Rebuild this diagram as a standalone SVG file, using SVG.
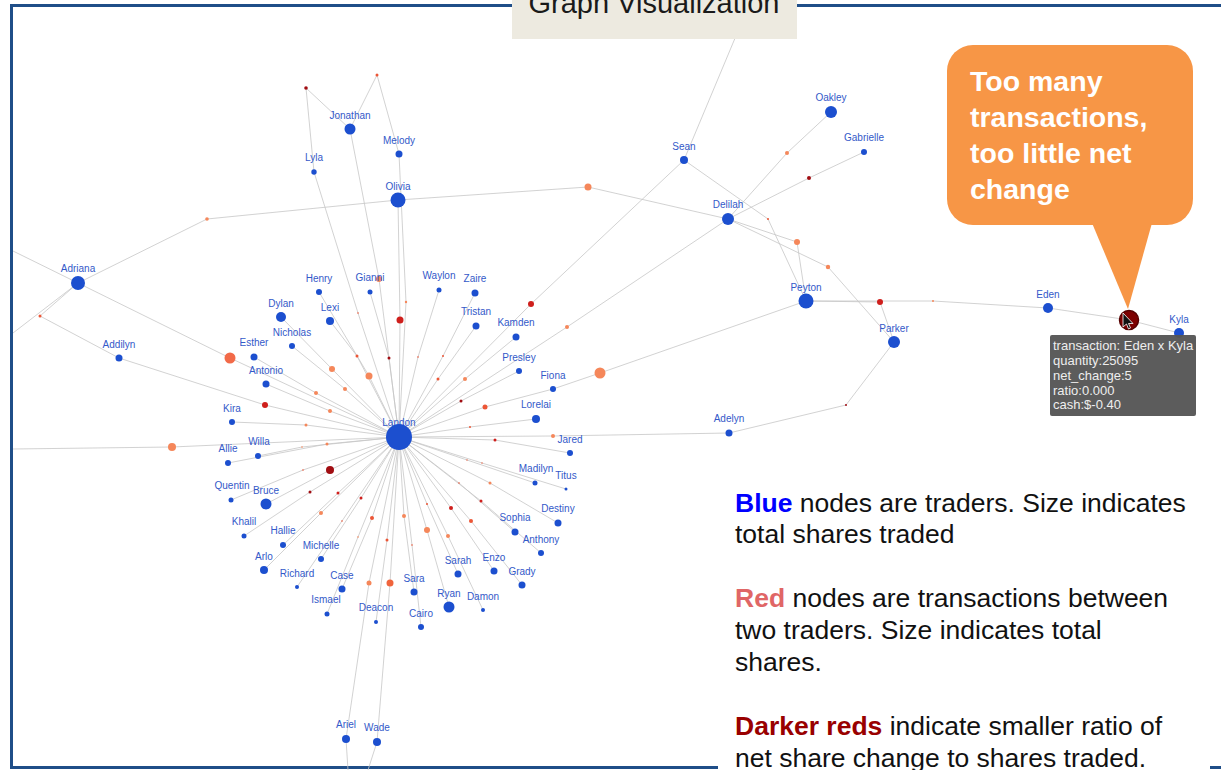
<svg xmlns="http://www.w3.org/2000/svg" width="1221" height="770" viewBox="0 0 1221 770">
<style>
.e{fill:none;stroke:#c6c6c6;stroke-width:0.8}
.tr circle{fill:#1c4fcf}
.tr text{font-family:"Liberation Sans",Arial,sans-serif;font-size:10px;fill:#3359c9;text-anchor:middle}
.t1{fill:#f5875a}
.t2{fill:#ec5636}
.t3{fill:#cf1f1c}
.t4{fill:#a10d12}
.lg{font-family:"Liberation Sans",Arial,sans-serif;font-size:26.5px;fill:#111}
.tip{font-family:"Liberation Sans",Arial,sans-serif;font-size:13px;fill:#eeeeee}
.co{font-family:"Liberation Sans",Arial,sans-serif;font-size:28.5px;font-weight:bold;fill:#ffffff}
</style>
<rect x="0" y="0" width="1221" height="770" fill="#ffffff"/>
<rect id="frame" x="11.5" y="5.5" width="1230" height="762" fill="none" stroke="#1f4e88" stroke-width="3"/>

<g id="connectors">
<path class="e" d="M350 129 L306 88 L314 172"/>
<path class="e" d="M350 129 L377 75 L399 154"/>
<path class="e" d="M399 154 L406 302 L399 437"/>
<path class="e" d="M398 200 L400 320 L399 437"/>
<path class="e" d="M398 200 L207 219 L78 283"/>
<path class="e" d="M398 200 L588 187 L728 219"/>
<path class="e" d="M684 160 L751 0"/>
<path class="e" d="M684 160 L768 219 L806 301"/>
<path class="e" d="M684 160 L531 304 L399 437"/>
<path class="e" d="M831 112 L787 153 L728 219"/>
<path class="e" d="M864 152 L809 178 L728 219"/>
<path class="e" d="M728 219 L797 242 L806 301"/>
<path class="e" d="M728 219 L828 267 L894 342"/>
<path class="e" d="M728 219 L567 327 L399 437"/>
<path class="e" d="M806 301 L880 302 L894 342"/>
<path class="e" d="M806 301 L933 301 L1048 308"/>
<path class="e" d="M1048 308 L1129 320 L1179 333"/>
<path class="e" d="M894 342 L846 405 L729 433"/>
<path class="e" d="M729 433 L553 436 L399 437"/>
<path class="e" d="M806 301 L600 373 L553 389"/>
<path class="e" d="M553 389 L485 407 L399 437"/>
<path class="e" d="M78 283 L13 251"/>
<path class="e" d="M78 283 L13 333"/>
<path class="e" d="M78 283 L40 316 L119 358"/>
<path class="e" d="M78 283 L230 358 L399 437"/>
<path class="e" d="M119 358 L265 405 L399 437"/>
<path class="e" d="M13 449 L172 447 L399 437"/>
<path class="e" d="M346 739 L348 770"/>
<path class="e" d="M377 742 L368 770"/>
<path class="e" d="M350 129 L379 279 L399 437"/>
<path class="e" d="M314 172 L358 313 L399 437"/>
<path class="e" d="M319 292 L369 376 L399 437"/>
<path class="e" d="M370 292 L389 358 L399 437"/>
<path class="e" d="M330 321 L357 356 L399 437"/>
<path class="e" d="M281 317 L332 369 L399 437"/>
<path class="e" d="M292 346 L345 389 L399 437"/>
<path class="e" d="M254 357 L316 393 L399 437"/>
<path class="e" d="M266 384 L330 411 L399 437"/>
<path class="e" d="M232 422 L306 425 L399 437"/>
<path class="e" d="M439 290 L418 357 L399 437"/>
<path class="e" d="M475 293 L443 356 L399 437"/>
<path class="e" d="M476 326 L438 379 L399 437"/>
<path class="e" d="M516 337 L465 379 L399 437"/>
<path class="e" d="M519 371 L461 401 L399 437"/>
<path class="e" d="M536 419 L470 427 L399 437"/>
<path class="e" d="M570 453 L495 440 L399 437"/>
<path class="e" d="M535 483 L467 460 L399 437"/>
<path class="e" d="M566 489 L482 463 L399 437"/>
<path class="e" d="M558 523 L490 483 L399 437"/>
<path class="e" d="M515 532 L459 483 L399 437"/>
<path class="e" d="M541 553 L481 501 L399 437"/>
<path class="e" d="M522 585 L471 521 L399 437"/>
<path class="e" d="M494 571 L451 508 L399 437"/>
<path class="e" d="M458 574 L427 504 L399 437"/>
<path class="e" d="M483 610 L448 536 L399 437"/>
<path class="e" d="M449 607 L427 530 L399 437"/>
<path class="e" d="M421 627 L412 545 L399 437"/>
<path class="e" d="M414 592 L404 516 L399 437"/>
<path class="e" d="M377 742 L390 583 L399 437"/>
<path class="e" d="M346 739 L369 583 L399 437"/>
<path class="e" d="M376 622 L387 540 L399 437"/>
<path class="e" d="M327 614 L358 537 L399 437"/>
<path class="e" d="M342 589 L372 518 L399 437"/>
<path class="e" d="M297 587 L342 521 L399 437"/>
<path class="e" d="M321 559 L361 498 L399 437"/>
<path class="e" d="M264 570 L321 513 L399 437"/>
<path class="e" d="M283 545 L338 493 L399 437"/>
<path class="e" d="M244 536 L310 492 L399 437"/>
<path class="e" d="M266 504 L330 470 L399 437"/>
<path class="e" d="M231 500 L303 470 L399 437"/>
<path class="e" d="M228 463 L327 444 L399 437"/>
<path class="e" d="M258 456 L302 447 L399 437"/>
</g>

<g id="transactions">
<g id="tx-01"><circle class="t4" cx="306" cy="88" r="1.8"/></g>
<g id="tx-02"><circle class="t2" cx="377" cy="75" r="1.5"/></g>
<g id="tx-03"><circle class="t1" cx="207" cy="219" r="1.8"/></g>
<g id="tx-04"><circle class="t1" cx="588" cy="187" r="3.5"/></g>
<g id="tx-05"><circle class="t1" cx="787" cy="153" r="2"/></g>
<g id="tx-06"><circle class="t4" cx="809" cy="178" r="2"/></g>
<g id="tx-07"><circle class="t2" cx="768" cy="219" r="1"/></g>
<g id="tx-08"><circle class="t1" cx="797" cy="242" r="3"/></g>
<g id="tx-09"><circle class="t1" cx="828" cy="267" r="2.2"/></g>
<g id="tx-10"><circle class="t3" cx="880" cy="302" r="3"/></g>
<g id="tx-11"><circle class="t1" cx="933" cy="301" r="1"/></g>
<g id="tx-12"><circle class="t4" cx="846" cy="405" r="1"/></g>
<g id="tx-13"><circle class="t3" cx="531" cy="304" r="3"/></g>
<g id="tx-14"><circle class="t1" cx="567" cy="327" r="2"/></g>
<g id="tx-15"><circle class="t1" cx="600" cy="373" r="5.5"/></g>
<g id="tx-16"><circle class="t1" cx="553" cy="436" r="2"/></g>
<g id="tx-17"><circle class="t2" cx="40" cy="316" r="1.5"/></g>
<g id="tx-18"><circle fill="#f26a48" cx="230" cy="358" r="5.5"/></g>
<g id="tx-19"><circle class="t3" cx="265" cy="405" r="3"/></g>
<g id="tx-20"><circle class="t1" cx="172" cy="447" r="4"/></g>
<g id="tx-21"><circle class="t1" cx="379" cy="279" r="3"/></g>
<g id="tx-22"><circle class="t2" cx="358" cy="313" r="0.8"/></g>
<g id="tx-23"><circle class="t3" cx="400" cy="320" r="3.5"/></g>
<g id="tx-24"><circle class="t1" cx="406" cy="302" r="1.2"/></g>
<g id="tx-25"><circle class="t2" cx="357" cy="356" r="1.5"/></g>
<g id="tx-26"><circle class="t4" cx="389" cy="358" r="1.5"/></g>
<g id="tx-27"><circle class="t1" cx="369" cy="376" r="3.5"/></g>
<g id="tx-28"><circle class="t1" cx="332" cy="369" r="3"/></g>
<g id="tx-29"><circle class="t1" cx="345" cy="389" r="2"/></g>
<g id="tx-30"><circle class="t1" cx="316" cy="393" r="2"/></g>
<g id="tx-31"><circle class="t1" cx="330" cy="411" r="2"/></g>
<g id="tx-32"><circle class="t1" cx="306" cy="425" r="1.5"/></g>
<g id="tx-33"><circle class="t2" cx="418" cy="357" r="0.8"/></g>
<g id="tx-34"><circle class="t2" cx="443" cy="356" r="1"/></g>
<g id="tx-35"><circle class="t2" cx="438" cy="379" r="1.5"/></g>
<g id="tx-36"><circle class="t1" cx="465" cy="379" r="2"/></g>
<g id="tx-37"><circle class="t4" cx="461" cy="401" r="1.5"/></g>
<g id="tx-38"><circle class="t2" cx="485" cy="407" r="2.5"/></g>
<g id="tx-39"><circle class="t2" cx="470" cy="427" r="1"/></g>
<g id="tx-40"><circle class="t3" cx="495" cy="440" r="1.5"/></g>
<g id="tx-41"><circle class="t2" cx="467" cy="460" r="0.7"/></g>
<g id="tx-42"><circle class="t2" cx="482" cy="463" r="0.7"/></g>
<g id="tx-43"><circle class="t1" cx="490" cy="483" r="1.5"/></g>
<g id="tx-44"><circle class="t2" cx="459" cy="483" r="0.8"/></g>
<g id="tx-45"><circle class="t3" cx="481" cy="501" r="1.5"/></g>
<g id="tx-46"><circle class="t2" cx="471" cy="521" r="2"/></g>
<g id="tx-47"><circle class="t3" cx="451" cy="508" r="2"/></g>
<g id="tx-48"><circle class="t2" cx="427" cy="504" r="1"/></g>
<g id="tx-49"><circle class="t1" cx="448" cy="536" r="2"/></g>
<g id="tx-50"><circle class="t1" cx="427" cy="530" r="3"/></g>
<g id="tx-51"><circle class="t2" cx="412" cy="545" r="0.8"/></g>
<g id="tx-52"><circle class="t1" cx="404" cy="516" r="2"/></g>
<g id="tx-53"><circle fill="#f0643c" cx="390" cy="583" r="3.5"/></g>
<g id="tx-54"><circle class="t1" cx="369" cy="583" r="2.5"/></g>
<g id="tx-55"><circle class="t2" cx="387" cy="540" r="1.5"/></g>
<g id="tx-56"><circle class="t1" cx="358" cy="537" r="0.8"/></g>
<g id="tx-57"><circle class="t2" cx="372" cy="518" r="2"/></g>
<g id="tx-58"><circle class="t2" cx="342" cy="521" r="0.8"/></g>
<g id="tx-59"><circle class="t3" cx="361" cy="498" r="1.5"/></g>
<g id="tx-60"><circle class="t1" cx="321" cy="513" r="2"/></g>
<g id="tx-61"><circle class="t3" cx="338" cy="493" r="1.5"/></g>
<g id="tx-62"><circle class="t4" cx="310" cy="492" r="1.5"/></g>
<g id="tx-63"><circle class="t4" cx="330" cy="470" r="4"/></g>
<g id="tx-64"><circle class="t2" cx="303" cy="470" r="0.8"/></g>
<g id="tx-65"><circle class="t1" cx="327" cy="444" r="1.5"/></g>
<g id="tx-66"><circle class="t1" cx="302" cy="447" r="0.8"/></g>
</g>

<g id="traders">
<g id="n-jonathan" class="tr"><circle cx="350" cy="129" r="5.5"/><text x="350" y="119">Jonathan</text></g>
<g id="n-melody" class="tr"><circle cx="399" cy="154" r="3.5"/><text x="399" y="144">Melody</text></g>
<g id="n-lyla" class="tr"><circle cx="314" cy="172" r="2.7"/><text x="314" y="161">Lyla</text></g>
<g id="n-olivia" class="tr"><circle cx="398" cy="200" r="7.5"/><text x="398" y="190">Olivia</text></g>
<g id="n-sean" class="tr"><circle cx="684" cy="160" r="4"/><text x="684" y="150">Sean</text></g>
<g id="n-oakley" class="tr"><circle cx="831" cy="112" r="6"/><text x="831" y="101">Oakley</text></g>
<g id="n-gabrielle" class="tr"><circle cx="864" cy="152" r="3"/><text x="864" y="141">Gabrielle</text></g>
<g id="n-delilah" class="tr"><circle cx="728" cy="219" r="6"/><text x="728" y="208">Delilah</text></g>
<g id="n-adriana" class="tr"><circle cx="78" cy="283" r="7"/><text x="78" y="272">Adriana</text></g>
<g id="n-henry" class="tr"><circle cx="319" cy="292" r="3"/><text x="319" y="282">Henry</text></g>
<g id="n-gianni" class="tr"><text x="370" y="281">Gianni</text><circle cx="370" cy="292" r="2.5"/></g>
<g id="n-waylon" class="tr"><circle cx="439" cy="290" r="2.5"/><text x="439" y="279">Waylon</text></g>
<g id="n-zaire" class="tr"><circle cx="475" cy="293" r="3.5"/><text x="475" y="282">Zaire</text></g>
<g id="n-peyton" class="tr"><circle cx="806" cy="301" r="7.5"/><text x="806" y="291">Peyton</text></g>
<g id="n-eden" class="tr"><circle cx="1048" cy="308" r="5"/><text x="1048" y="298">Eden</text></g>
<g id="n-kyla" class="tr"><circle cx="1179" cy="333" r="5"/><text x="1179" y="323">Kyla</text></g>
<g id="n-dylan" class="tr"><circle cx="281" cy="317" r="5"/><text x="281" y="307">Dylan</text></g>
<g id="n-lexi" class="tr"><circle cx="330" cy="321" r="4"/><text x="330" y="311">Lexi</text></g>
<g id="n-tristan" class="tr"><circle cx="476" cy="326" r="3.5"/><text x="476" y="315">Tristan</text></g>
<g id="n-kamden" class="tr"><circle cx="516" cy="337" r="3.5"/><text x="516" y="326">Kamden</text></g>
<g id="n-parker" class="tr"><circle cx="894" cy="342" r="6"/><text x="894" y="332">Parker</text></g>
<g id="n-nicholas" class="tr"><circle cx="292" cy="346" r="3"/><text x="292" y="336">Nicholas</text></g>
<g id="n-addilyn" class="tr"><circle cx="119" cy="358" r="3.5"/><text x="119" y="348">Addilyn</text></g>
<g id="n-esther" class="tr"><circle cx="254" cy="357" r="3.5"/><text x="254" y="346">Esther</text></g>
<g id="n-presley" class="tr"><circle cx="519" cy="371" r="3"/><text x="519" y="361">Presley</text></g>
<g id="n-antonio" class="tr"><circle cx="266" cy="384" r="3.5"/><text x="266" y="374">Antonio</text></g>
<g id="n-fiona" class="tr"><circle cx="553" cy="389" r="3"/><text x="553" y="379">Fiona</text></g>
<g id="n-kira" class="tr"><circle cx="232" cy="422" r="3"/><text x="232" y="412">Kira</text></g>
<g id="n-lorelai" class="tr"><circle cx="536" cy="419" r="4"/><text x="536" y="408">Lorelai</text></g>
<g id="n-landon" class="tr"><text x="399" y="426">Landon</text><circle cx="399" cy="437" r="13"/></g>
<g id="n-adelyn" class="tr"><circle cx="729" cy="433" r="3.5"/><text x="729" y="422">Adelyn</text></g>
<g id="n-willa" class="tr"><circle cx="258" cy="456" r="3"/><text x="259" y="445">Willa</text></g>
<g id="n-allie" class="tr"><circle cx="228" cy="463" r="3"/><text x="228" y="452">Allie</text></g>
<g id="n-jared" class="tr"><circle cx="570" cy="453" r="3"/><text x="570" y="443">Jared</text></g>
<g id="n-madilyn" class="tr"><circle cx="535" cy="483" r="2.5"/><text x="536" y="472">Madilyn</text></g>
<g id="n-titus" class="tr"><circle cx="566" cy="489" r="1.5"/><text x="566" y="479">Titus</text></g>
<g id="n-quentin" class="tr"><circle cx="231" cy="500" r="2.5"/><text x="232" y="489">Quentin</text></g>
<g id="n-bruce" class="tr"><circle cx="266" cy="504" r="5.5"/><text x="266" y="494">Bruce</text></g>
<g id="n-destiny" class="tr"><circle cx="558" cy="523" r="3.5"/><text x="558" y="512">Destiny</text></g>
<g id="n-sophia" class="tr"><circle cx="515" cy="532" r="3.5"/><text x="515" y="521">Sophia</text></g>
<g id="n-khalil" class="tr"><circle cx="244" cy="536" r="2.5"/><text x="244" y="525">Khalil</text></g>
<g id="n-hallie" class="tr"><circle cx="283" cy="545" r="3"/><text x="283" y="534">Hallie</text></g>
<g id="n-anthony" class="tr"><circle cx="541" cy="553" r="3"/><text x="541" y="543">Anthony</text></g>
<g id="n-michelle" class="tr"><circle cx="321" cy="559" r="3"/><text x="321" y="549">Michelle</text></g>
<g id="n-arlo" class="tr"><circle cx="264" cy="570" r="4"/><text x="264" y="560">Arlo</text></g>
<g id="n-enzo" class="tr"><circle cx="494" cy="571" r="3.5"/><text x="494" y="561">Enzo</text></g>
<g id="n-sarah" class="tr"><circle cx="458" cy="574" r="3.5"/><text x="458" y="564">Sarah</text></g>
<g id="n-grady" class="tr"><circle cx="522" cy="585" r="3.5"/><text x="522" y="575">Grady</text></g>
<g id="n-richard" class="tr"><circle cx="297" cy="587" r="2"/><text x="297" y="577">Richard</text></g>
<g id="n-case" class="tr"><circle cx="342" cy="589" r="3.5"/><text x="342" y="579">Case</text></g>
<g id="n-sara" class="tr"><circle cx="414" cy="592" r="3.5"/><text x="414" y="582">Sara</text></g>
<g id="n-ryan" class="tr"><circle cx="449" cy="607" r="5.5"/><text x="449" y="597">Ryan</text></g>
<g id="n-damon" class="tr"><circle cx="483" cy="610" r="2"/><text x="483" y="600">Damon</text></g>
<g id="n-ismael" class="tr"><circle cx="327" cy="614" r="2.5"/><text x="326" y="603">Ismael</text></g>
<g id="n-deacon" class="tr"><circle cx="376" cy="622" r="2"/><text x="376" y="611">Deacon</text></g>
<g id="n-cairo" class="tr"><circle cx="421" cy="627" r="3"/><text x="421" y="617">Cairo</text></g>
<g id="n-ariel" class="tr"><circle cx="346" cy="739" r="4"/><text x="346" y="728">Ariel</text></g>
<g id="n-wade" class="tr"><circle cx="377" cy="742" r="4"/><text x="377" y="731">Wade</text></g>
</g>

<g id="tx-eden-kyla"><circle cx="1129" cy="320" r="9.5" fill="#7d0000" stroke="#560000" stroke-width="1.5"/></g>

<g id="tooltip">
<rect x="1050" y="335" width="146" height="81" rx="2" fill="#555555" fill-opacity="0.96"/>
<text class="tip" x="1053" y="350">transaction: Eden x Kyla</text>
<text class="tip" x="1053" y="365">quantity:25095</text>
<text class="tip" x="1053" y="380">net_change:5</text>
<text class="tip" x="1053" y="395">ratio:0.000</text>
<text class="tip" x="1053" y="409">cash:$-0.40</text>
</g>

<path id="cursor" d="M1123 313 L1123 327 L1126.5 324 L1128.5 329 L1130.5 328 L1128.5 323.5 L1133 323.5 Z" fill="#111" stroke="#fff" stroke-width="0.8"/>

<g id="callout">
<rect x="947" y="45" width="246" height="180" rx="26" fill="#f79646"/>
<polygon points="1092,223 1152,223 1128,309" fill="#f79646"/>
<text class="co" x="970" y="91">Too many</text>
<text class="co" x="970" y="127">transactions,</text>
<text class="co" x="970" y="163">too little net</text>
<text class="co" x="970" y="199">change</text>
</g>

<g id="title">
<rect x="512" y="-2" width="285" height="41" fill="#edeae0"/>
<text x="654" y="13" text-anchor="middle" font-family="Liberation Sans, Arial, sans-serif" font-size="29" fill="#1a1a1a">Graph Visualization</text>
</g>

<g id="legend">
<rect x="718" y="478" width="492" height="292" fill="#ffffff"/>
<text class="lg" x="735" y="512"><tspan font-weight="bold" fill="#0000ff">Blue</tspan> nodes are traders. Size indicates</text>
<text class="lg" x="735" y="543">total shares traded</text>
<text class="lg" x="735" y="607"><tspan font-weight="bold" fill="#e06666">Red</tspan> nodes are transactions between</text>
<text class="lg" x="735" y="639">two traders. Size indicates total</text>
<text class="lg" x="735" y="671">shares.</text>
<text class="lg" x="735" y="735"><tspan font-weight="bold" fill="#990000">Darker reds</tspan> indicate smaller ratio of</text>
<text class="lg" x="735" y="767">net share change to shares traded.</text>
</g>
</svg>
